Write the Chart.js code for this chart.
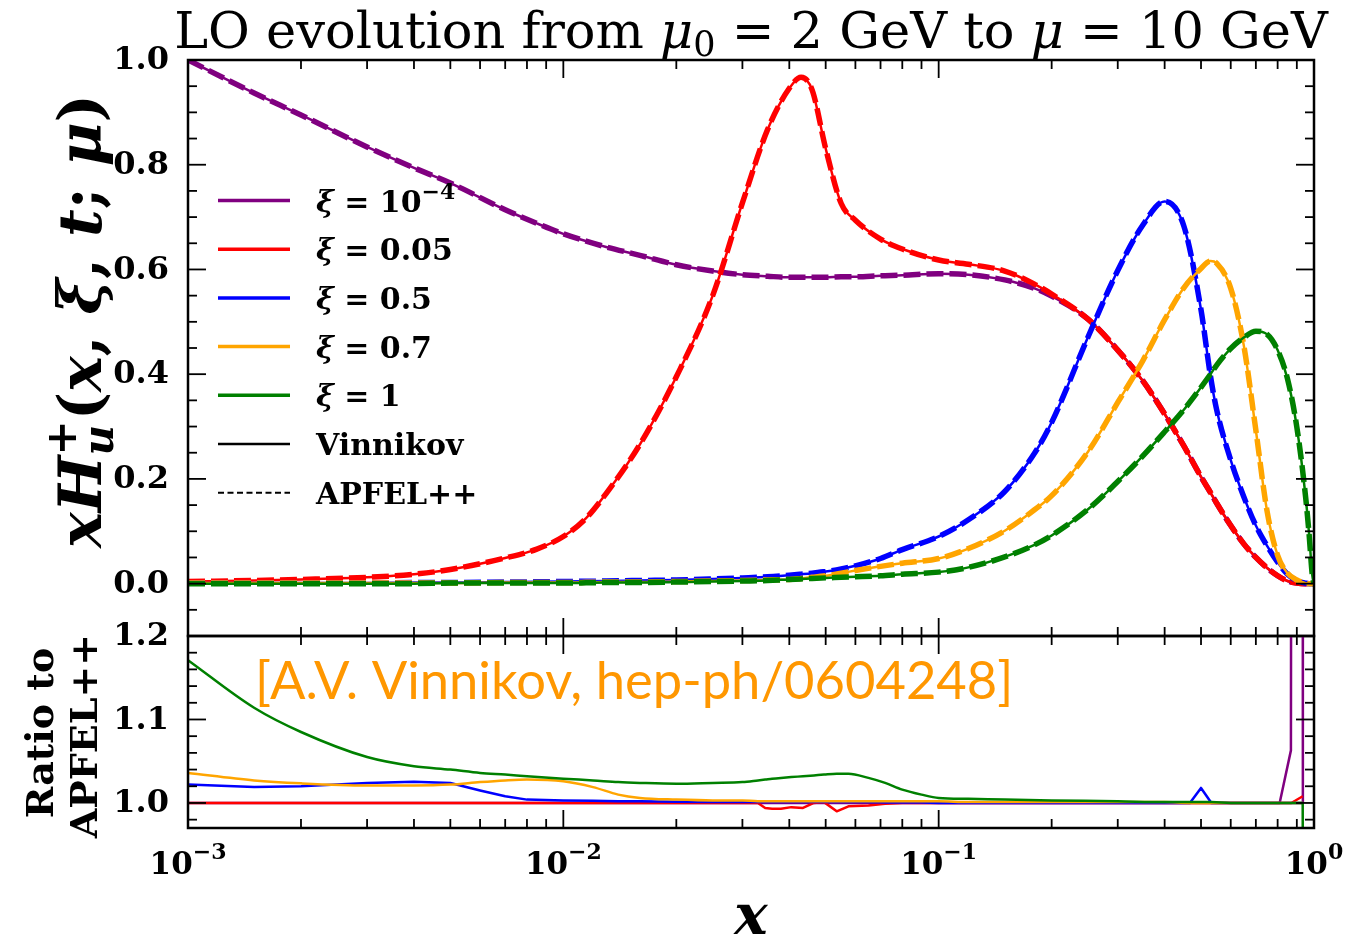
<!DOCTYPE html>
<html>
<head>
<meta charset="utf-8">
<title>LO evolution of xH_u^+</title>
<script src="https://cdn.jsdelivr.net/npm/chart.js@4.4.1/dist/chart.umd.min.js"></script>
<style>
  body { margin: 0; background: #fff; }
  #wrap { position: relative; width: 1347px; height: 941px; }
  #wrap canvas { position: absolute; left: 0; top: 0; }
</style>
</head>
<body>
<div id="wrap">
  <canvas id="main-graph" width="1347" height="941"></canvas>
  <canvas id="ratio-graph" width="1347" height="941"></canvas>
</div>
<script>
// x grid of the evolved distributions
const xGrid = [
  0.001, 0.0015, 0.002, 0.003, 0.004, 0.005, 0.007, 0.0085,
  0.01, 0.0115, 0.013, 0.016, 0.02, 0.025, 0.03, 0.035, 0.04, 0.043, 0.046, 0.05, 0.055, 0.06, 0.07, 0.08,
  0.1, 0.12, 0.15, 0.18, 0.2, 0.25, 0.3, 0.35, 0.4, 0.45, 0.5,
  0.53, 0.55, 0.6, 0.65, 0.7, 0.75, 0.8, 0.85, 0.9, 0.95, 0.97, 0.99, 1.0,
];

// xH_u^+ at mu = 10 GeV, one array per skewness
const hXi1e4 = [
  1.000, 0.937, 0.895, 0.834, 0.794, 0.765, 0.714, 0.688,
  0.668, 0.654, 0.643, 0.627, 0.609, 0.597, 0.590, 0.587, 0.585, 0.585, 0.585, 0.585, 0.586, 0.586, 0.588, 0.589,
  0.592, 0.590, 0.580, 0.564, 0.549, 0.505, 0.446, 0.387, 0.324, 0.263, 0.204,
  0.174, 0.154, 0.111, 0.076, 0.050, 0.030, 0.015, 0.005, 0.001, 0.000, 0.000, 0.000, 0.000,
];
const hXi005 = [
  0.004, 0.006, 0.008, 0.012, 0.018, 0.027, 0.049, 0.066,
  0.090, 0.125, 0.172, 0.266, 0.395, 0.550, 0.727, 0.867, 0.946, 0.967, 0.943, 0.831, 0.726, 0.694, 0.658, 0.639,
  0.618, 0.610, 0.597, 0.572, 0.553, 0.505, 0.446, 0.387, 0.324, 0.263, 0.204,
  0.174, 0.154, 0.111, 0.076, 0.050, 0.030, 0.015, 0.005, 0.001, 0.000, 0.000, 0.000, 0.000,
];
const hXi05 = [
  0.001, 0.001, 0.001, 0.001, 0.002, 0.002, 0.003, 0.0035,
  0.004, 0.0045, 0.005, 0.006, 0.007, 0.009, 0.011, 0.013, 0.016, 0.018, 0.020, 0.023, 0.028, 0.034, 0.048, 0.065,
  0.090, 0.122, 0.176, 0.249, 0.308, 0.471, 0.598, 0.685, 0.730, 0.683, 0.523,
  0.396, 0.333, 0.236, 0.166, 0.111, 0.072, 0.041, 0.018, 0.006, 0.001, 0.000, 0.000, 0.000,
];
const hXi07 = [
  0.001, 0.001, 0.001, 0.001, 0.001, 0.001, 0.002, 0.002,
  0.002, 0.0025, 0.003, 0.003, 0.004, 0.005, 0.006, 0.007, 0.008, 0.010, 0.012, 0.015, 0.020, 0.025, 0.033, 0.039,
  0.048, 0.067, 0.101, 0.141, 0.168, 0.252, 0.346, 0.426, 0.504, 0.565, 0.602,
  0.616, 0.612, 0.564, 0.455, 0.293, 0.138, 0.054, 0.020, 0.007, 0.001, 0.000, 0.000, 0.000,
];
const hXi1 = [
  0.000, 0.000, 0.000, 0.000, 0.000, 0.001, 0.001, 0.001,
  0.001, 0.0015, 0.002, 0.002, 0.003, 0.004, 0.005, 0.006, 0.008, 0.009, 0.010, 0.011, 0.012, 0.013, 0.015, 0.018,
  0.022, 0.031, 0.051, 0.074, 0.092, 0.142, 0.195, 0.244, 0.290, 0.332, 0.375,
  0.400, 0.417, 0.449, 0.470, 0.482, 0.476, 0.446, 0.391, 0.299, 0.165, 0.096, 0.015, 0.000,
];

// x grid of the Vinnikov / APFEL++ ratio
const xRatio = [
  0.001, 0.0015, 0.002, 0.003, 0.004, 0.005, 0.006, 0.007, 0.008,
  0.01, 0.012, 0.014, 0.016, 0.02, 0.025, 0.03,
  0.033, 0.0345, 0.036, 0.038, 0.0405, 0.0435, 0.0465, 0.0495, 0.0535, 0.0575, 0.065, 0.072, 0.08, 0.09,
  0.1, 0.12, 0.15, 0.2, 0.3, 0.4, 0.467, 0.5, 0.533, 0.6, 0.7, 0.81, 0.868, 0.87, 0.933, 0.934,
];
const rXi1e4 = [
  1, 1, 1, 1, 1, 1, 1, 1, 1,
  1, 1, 1, 1, 1, 1, 1,
  1, 1, 1, 1, 1, 1, 1, 1, 1, 1, 1, 1, 1, 1,
  1, 1, 1, 1, 1, 1, 1, 1, 1, 1, 1, 1, 1.063, 1.5, 1.5, 1,
];
const rXi005 = [
  1, 1, 1, 1, 1, 1, 1, 1, 1,
  1, 1, 1, 1, 1, 1, 1,
  1.000, 0.994, 0.993, 0.993, 0.995, 0.994, 1.000, 1.001, 0.990, 0.996, 0.997, 0.999, 1.000, 1.000,
  1, 1, 1, 1, 1, 1, 1, 1, 1, 1, 1, 1, 1, 1, 1.008, 1.008,
];
const rXi05 = [
  1.022, 1.019, 1.020, 1.024, 1.0255, 1.024, 1.015, 1.008, 1.004,
  1.003, 1.0025, 1.002, 1.002, 1.0015, 1.001, 1.001,
  1.001, 1.001, 1.001, 1.001, 1.001, 1.001, 1.001, 1.001, 1.001, 1.001, 1.001, 1.0005, 1.0005, 1.0005,
  1, 1, 1, 1, 1, 1, 1, 1.018, 1, 1, 1, 1, 1, 1, 1, 1,
];
const rXi07 = [
  1.036, 1.027, 1.0235, 1.021, 1.021, 1.022, 1.025, 1.027, 1.028,
  1.026, 1.019, 1.010, 1.006, 1.004, 1.003, 1.003,
  1.002, 1.002, 1.002, 1.002, 1.002, 1.002, 1.002, 1.002, 1.002, 1.002, 1.002, 1.002, 1.002, 1.002,
  1.002, 1.001, 1.001, 1.001, 1.001, 1.001, 1, 1, 1, 1, 1, 1, 1, 1, 1, 1,
];
const rXi1 = [
  1.171, 1.114, 1.085, 1.055, 1.044, 1.040, 1.036, 1.034, 1.032,
  1.029, 1.027, 1.025, 1.024, 1.023, 1.024, 1.025,
  1.027, 1.028, 1.029, 1.030, 1.031, 1.032, 1.033, 1.034, 1.035, 1.035, 1.030, 1.024, 1.016, 1.010,
  1.006, 1.005, 1.004, 1.003, 1.002, 1.001, 1.001, 1.001, 1.001, 1, 1, 1, 1, 1, 1, 0.9,
];

// legend text and colours, one per skewness
const xiLabels = ['10', '0.05', '0.5', '0.7', '1'];
const xiPowers = ['\u22124', '', '', '', ''];
const xiColors = ['#800080', '#ff0000', '#0000ff', '#ffa500', '#008000'];
// smooth ratio curves; the others keep their kinks
const ratioSmooth = [false, false, false, true, true];
const xDecades = [-3, -2, -1, 0];

const SERIF = '"DejaVu Serif", serif';
function font(size, weight = 'bold', style = 'normal') {
  return `${style} ${weight} ${size}px ${SERIF}`;
}

// draws text pieces one after the other; a piece with `over` shares the x of the previous one
function drawRuns(ctx, runs, x, y, align) {
  ctx.textAlign = 'left';
  ctx.textBaseline = 'alphabetic';
  let total = 0;
  let prev = 0;
  for (const r of runs) {
    ctx.font = r.font;
    r.w = ctx.measureText(r.text).width;
    if (r.over) {
      r.adv = Math.max(0, r.w - prev);
    } else {
      r.adv = r.w;
      prev = r.w;
    }
    total += r.adv;
  }
  let cx = align === 'center' ? x - total / 2 : align === 'right' ? x - total : x;
  let last = cx;
  for (const r of runs) {
    ctx.font = r.font;
    const at = r.over ? last : cx;
    ctx.fillText(r.text, at, y + (r.dy || 0));
    if (!r.over) last = cx;
    cx += r.adv;
  }
}

function stroke(ctx, x1, y1, x2, y2) {
  ctx.beginPath();
  ctx.moveTo(x1, y1);
  ctx.lineTo(x2, y2);
  ctx.stroke();
}

// inward ticks on all four sides, the box and the tick labels
const axesFrame = {
  id: 'axesFrame',
  afterDatasetsDraw(chart, args, opts) {
    const { ctx, chartArea: area, scales: { x, y } } = chart;
    ctx.save();
    ctx.strokeStyle = '#000';
    ctx.fillStyle = '#000';
    ctx.setLineDash([]);
    ctx.lineWidth = 1.8;

    for (const e of xDecades) {
      for (let m = 1; m <= 9; m++) {
        const v = m * Math.pow(10, e);
        if (v > x.max) break;
        const px = x.getPixelForValue(v);
        const len = m === 1 ? 18 : 9;
        stroke(ctx, px, area.top, px, area.top + len);
        stroke(ctx, px, area.bottom, px, area.bottom - len);
      }
    }

    const k0 = Math.ceil(y.min / opts.minor - 1e-6);
    const k1 = Math.floor(y.max / opts.minor + 1e-6);
    for (let k = k0; k <= k1; k++) {
      const v = k * opts.minor;
      const py = y.getPixelForValue(v);
      const major = k % opts.every === 0;
      const len = major ? 18 : 9;
      stroke(ctx, area.left, py, area.left + len, py);
      stroke(ctx, area.right, py, area.right - len, py);
      if (major && v > -1e-9) {
        ctx.font = font(32);
        ctx.textAlign = 'right';
        ctx.textBaseline = 'middle';
        ctx.fillText(v.toFixed(1), area.left - 19, py + 1);
      }
    }

    ctx.lineWidth = 2.5;
    ctx.strokeRect(area.left, area.top, area.right - area.left, area.bottom - area.top);

    if (opts.xLabels) {
      for (const e of xDecades) {
        const px = x.getPixelForValue(Math.pow(10, e));
        drawRuns(ctx, [
          { text: '10', font: font(31) },
          { text: e === 0 ? '0' : '\u2212' + (-e), font: font(22), dy: -15 },
        ], px, 874, 'center');
      }
    }
    ctx.restore();
  },
};

// title, y label and legend of the upper panel
const mainText = {
  id: 'mainText',
  afterDraw(chart) {
    const { ctx, chartArea: area } = chart;
    ctx.save();
    ctx.fillStyle = '#000';

    const tf = font(51, 'normal');
    drawRuns(ctx, [
      { text: 'LO evolution from ', font: tf },
      { text: '\u03bc', font: font(51, 'normal', 'italic') },
      { text: '0', font: font(35, 'normal'), dy: 8 },
      { text: ' = 2 GeV to ', font: tf },
      { text: '\u03bc', font: font(51, 'normal', 'italic') },
      { text: ' = 10 GeV', font: tf },
    ], (area.left + area.right) / 2, 48, 'center');

    ctx.save();
    ctx.translate(101, 321);
    ctx.rotate(-Math.PI / 2);
    const bi = font(60, 'bold', 'italic');
    const b = font(60);
    drawRuns(ctx, [
      { text: 'x', font: bi },
      { text: 'H', font: bi },
      { text: 'u', font: font(42, 'bold', 'italic'), dy: 12 },
      { text: '+', font: font(42), dy: -25, over: true },
      { text: '(', font: b },
      { text: 'x', font: bi },
      { text: ', ', font: b },
      { text: '\u03be', font: bi },
      { text: ', ', font: b },
      { text: 't', font: bi },
      { text: '; ', font: b },
      { text: '\u03bc', font: bi },
      { text: ')', font: b },
    ], 0, 0, 'center');
    ctx.restore();

    // legend
    const lx0 = area.left + 30;
    const lx1 = area.left + 102;
    const tx = area.left + 128;
    const rowY = (i) => area.top + 140.5 + i * 48.7;
    xiColors.forEach((c, i) => {
      const yy = rowY(i);
      ctx.strokeStyle = c;
      ctx.lineWidth = 3.5;
      stroke(ctx, lx0, yy, lx1, yy);
      drawRuns(ctx, [
        { text: '\u03be', font: font(30, 'bold', 'italic') },
        { text: ' = ' + xiLabels[i], font: font(30) },
        { text: xiPowers[i], font: font(22), dy: -13 },
      ], tx, yy + 11, 'left');
    });
    ctx.strokeStyle = '#000';
    ctx.lineWidth = 2.5;
    stroke(ctx, lx0, rowY(5), lx1, rowY(5));
    drawRuns(ctx, [{ text: 'Vinnikov', font: font(30) }], tx, rowY(5) + 11, 'left');
    ctx.lineWidth = 2;
    ctx.setLineDash([6, 3.5]);
    stroke(ctx, lx0, rowY(6), lx1, rowY(6));
    ctx.setLineDash([]);
    drawRuns(ctx, [{ text: 'APFEL++', font: font(30) }], tx, rowY(6) + 11, 'left');
    ctx.restore();
  },
};

// y label, x label and reference note of the ratio panel
const ratioText = {
  id: 'ratioText',
  afterDraw(chart) {
    const { ctx, chartArea: area } = chart;
    ctx.save();
    ctx.fillStyle = '#000';

    ctx.save();
    ctx.translate(53, 733);
    ctx.rotate(-Math.PI / 2);
    drawRuns(ctx, [{ text: 'Ratio to', font: font(38) }], 0, 0, 'center');
    ctx.restore();
    ctx.save();
    ctx.translate(97, 736);
    ctx.rotate(-Math.PI / 2);
    drawRuns(ctx, [{ text: 'APFEL++', font: font(38) }], 0, 0, 'center');
    ctx.restore();

    drawRuns(ctx, [{ text: 'x', font: font(56, 'bold', 'italic') }], (area.left + area.right) / 2, 934, 'center');

    ctx.fillStyle = '#ff9700';
    ctx.font = '52.5px Lato, sans-serif';
    ctx.textAlign = 'left';
    ctx.textBaseline = 'alphabetic';
    ctx.fillText('[A.V. Vinnikov, hep-ph/0604248]', area.left + 67, 699);
    ctx.restore();
  },
};

function points(xs, ys) {
  return xs.map((x, i) => ({ x, y: ys[i] }));
}

const baseOptions = (padding, yMin, yMax, frame) => ({
  responsive: false,
  animation: false,
  events: [],
  devicePixelRatio: 1,
  layout: { padding },
  elements: { point: { radius: 0 }, line: { borderJoinStyle: 'round' } },
  scales: {
    x: { type: 'logarithmic', min: 0.001, max: 1, display: false },
    y: { type: 'linear', min: yMin, max: yMax, display: false },
  },
  plugins: {
    legend: { display: false },
    tooltip: { enabled: false },
    axesFrame: frame,
  },
});

// upper panel: Vinnikov solid, APFEL++ dashed on top
const mainSets = [];
[hXi1e4, hXi005, hXi05, hXi07, hXi1].forEach((vals, i) => {
  const pts = points(xGrid, vals);
  mainSets.push({
    data: pts,
    borderColor: xiColors[i],
    borderWidth: 2.5,
    cubicInterpolationMode: 'monotone',
    order: 100 - 2 * i,
  });
  mainSets.push({
    data: pts,
    borderColor: xiColors[i],
    borderWidth: 5.5,
    borderDash: [17, 6],
    cubicInterpolationMode: 'monotone',
    order: 99 - 2 * i,
  });
});

new Chart(document.getElementById('main-graph'), {
  type: 'line',
  data: { datasets: mainSets },
  options: baseOptions({ left: 188, top: 60, right: 33, bottom: 305 }, -0.1, 1.0,
    { minor: 0.05, every: 4, xLabels: false }),
  plugins: [axesFrame, mainText],
});

// lower panel: ratio Vinnikov / APFEL++
const ratioSets = [rXi1e4, rXi005, rXi05, rXi07, rXi1].map((vals, i) => ({
  data: points(xRatio, vals),
  borderColor: xiColors[i],
  borderWidth: 2.5,
  cubicInterpolationMode: ratioSmooth[i] ? 'monotone' : 'default',
  order: 100 - i,
}));

new Chart(document.getElementById('ratio-graph'), {
  type: 'line',
  data: { datasets: ratioSets },
  options: baseOptions({ left: 188, top: 636, right: 33, bottom: 113 }, 0.97, 1.2,
    { minor: 0.02, every: 5, xLabels: true }),
  plugins: [axesFrame, ratioText],
});
</script>
</body>
</html>
